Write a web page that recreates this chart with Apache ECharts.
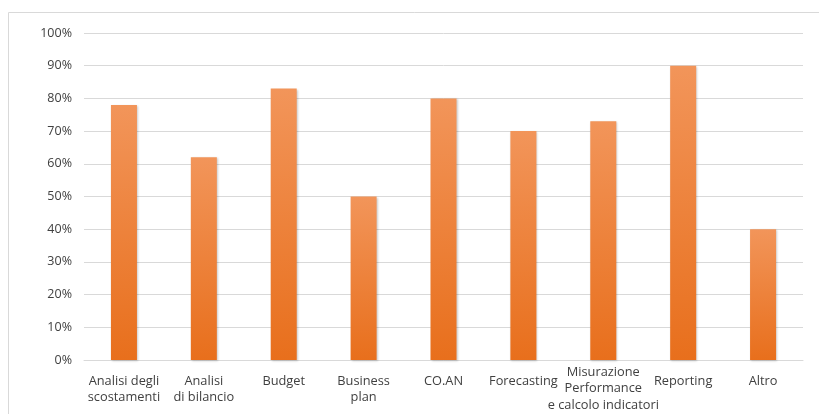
<!DOCTYPE html>
<html><head><meta charset="utf-8">
<script src="https://cdn.jsdelivr.net/npm/echarts@6/dist/echarts.min.js"></script>
<style>html,body{margin:0;padding:0;background:#fff}#c{width:819px;height:414px}</style>
</head><body><div id="c"></div>
<script>
const categories = ["Analisi degli\nscostamenti","Analisi\ndi bilancio","Budget","Business\nplan","CO.AN","Forecasting","Misurazione\nPerformance\ne calcolo indicatori","Reporting","Altro"];
const values = [78, 62, 83, 50, 80, 70, 73, 90, 40];
const chart = echarts.init(document.getElementById('c'));
const catData = categories.map(c => c.split('\n').length > 2 ? {value: c, textStyle: {padding: [-9, 0, 0, 0]}} : c);
chart.setOption({
  animation: false,
  graphic: [{type:'rect', shape:{x:8.5,y:12.5,width:830,height:430}, style:{fill:'none',stroke:'#d9d9d9',lineWidth:1}, z:-1}],
  grid: {left: 84, right: 16, top: 33, bottom: 54, containLabel: false},
  xAxis: {type:'category', data: catData,
    axisLine:{lineStyle:{color:'#d9d9d9'}}, axisTick:{show:false},
    axisLabel:{color:'#404040', fontFamily:'"Open Sans", Lato, sans-serif', fontSize:12.8, lineHeight:16.5, margin:13, verticalAlign:'top', interval:0}},
  yAxis: {type:'value', min:0, max:100, interval:10,
    axisLabel:{formatter:'{value}%', color:'#404040', fontFamily:'"Open Sans", Lato, sans-serif', fontSize:12.5, margin:12},
    splitLine:{lineStyle:{color:'#d9d9d9'}}, axisLine:{show:false}, axisTick:{show:false}},
  series: [{type:'bar', data: values, barWidth: 26,
    itemStyle:{color: new echarts.graphic.LinearGradient(0,0,0,1,[{offset:0,color:'#F2955A'},{offset:1,color:'#E86F1C'}]),
      shadowColor:'rgba(0,0,0,0.2)', shadowBlur:2, shadowOffsetX:1, shadowOffsetY:1}}]
});
</script></body></html>
